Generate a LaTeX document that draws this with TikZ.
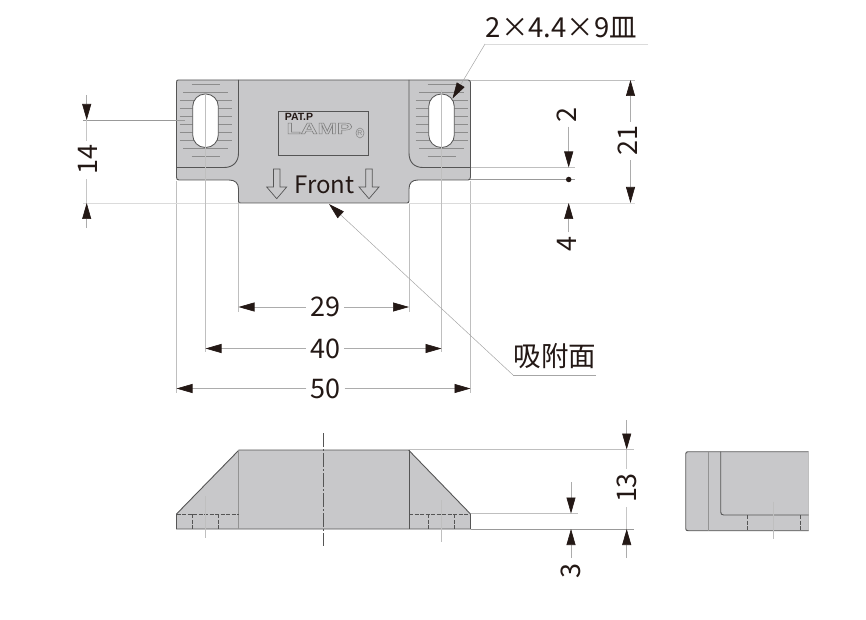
\documentclass[tikz,border=0pt]{standalone}
\usepackage{fontspec}
\setmainfont{Noto Sans CJK JP}
\newfontfamily\logofont{Liberation Sans}
\usetikzlibrary{arrows.meta,shapes.geometric}
\definecolor{partfill}{HTML}{C8C8CA}
\definecolor{ink}{HTML}{231815}
\definecolor{edge}{HTML}{555555}
\tikzset{
  x=1pt,y=-1pt,
  part/.style={fill=partfill,draw=edge,line width=0.9pt},
  edgeline/.style={draw=edge,line width=0.9pt},
  softedge/.style={draw=gray!85,line width=0.9pt},
  hidden/.style={draw=edge,line width=0.6pt,dash pattern=on 4pt off 1.5pt},
  hatchline/.style={draw=gray!90,line width=0.5pt},
  ext/.style={draw=gray!50,line width=0.6pt},
  extfaint/.style={draw=gray!28,line width=0.6pt},
  extdark/.style={draw=gray!80,line width=0.6pt},
  dimline/.style={draw=gray!65,line width=0.6pt,-{Triangle[length=16pt,width=9pt,color=ink]}},
  dimtail/.style={draw=gray!45,line width=0.6pt},
  leader/.style={draw=gray!70,line width=0.5pt},
  dimtext/.style={inner sep=0pt,inner xsep=4pt,text=ink,font=\fontsize{27}{27}\selectfont},
  labeltext/.style={inner sep=0pt,text=ink,font=\fontsize{27.5}{27.5}\selectfont},
  vtext/.style={dimtext,rotate=90},
  center line/.style={draw=edge,line width=0.7pt,dash pattern=on 14pt off 2pt on 2pt off 2pt},
  slot/.style={fill=white,draw=edge,line width=0.8pt,rounded corners=12.5pt},
  hollow/.style={fill=partfill,draw=edge,line width=0.7pt}
}
\newcommand{\hatchrows}[1]{%
  \foreach \yy/\hw in {84.3/14,92.3/22.5,100.3/26,108.3/26,116.3/26,124.3/26,132.3/26,140.3/26,148.3/22.5,156.3/14}
    {\draw[hatchline] (#1-\hw,\yy) -- (#1+\hw,\yy);}%
}
\newcommand{\downarrowshape}[1]{%
  \draw[hollow] (#1-3.3,169) -- (#1+3.3,169) -- (#1+3.3,187) -- (#1+10,187) -- (#1,198.7) -- (#1-10,187) -- (#1-3.3,187) -- cycle;%
}
\newcommand{\outlined}[1]{\special{pdf:code q 1 Tr 0.45 w 0.5 G}#1\special{pdf:code Q}}
\begin{document}
\begin{tikzpicture}
\useasboundingbox (0,0) rectangle (866,620);

% ---- extension lines (behind the parts)
\draw[ext] (176.5,181) -- (176.5,393);
\draw[ext] (470.5,181) -- (470.5,393);
\draw[ext] (238.5,203) -- (238.5,312);
\draw[ext] (409,203) -- (409,312);
\draw[ext] (470,80) -- (635,80);
\draw[extfaint] (409,203) -- (635,203);
\draw[extfaint] (83,203) -- (238,203);
\draw[ext] (470,167.5) -- (575,167.5);
\draw[extdark] (470,179.5) -- (575,179.5);

% ---- front view
\draw[part] (178,80) -- (468,80) .. controls (469.5,80) and (470.5,81) .. (470.5,82.5)
  -- (470.5,177) .. controls (470.5,179) and (469.5,180) .. (468,180)
  -- (418,180) .. controls (412,180) and (409,183) .. (409,189)
  -- (409,201) .. controls (409,202.5) and (408,203) .. (407,203)
  -- (240.5,203) .. controls (239,203) and (238.5,202.5) .. (238.5,201)
  -- (238.5,189) .. controls (238.5,183) and (235,180) .. (229,180)
  -- (179,180) .. controls (177,180) and (176.5,179) .. (176.5,177)
  -- (176.5,82.5) .. controls (176.5,81) and (177,80) .. (178,80) -- cycle;
\draw[edgeline] (238.5,80) -- (238.5,153) .. controls (238.5,162) and (233,167.5) .. (224,167.5) -- (176.5,167.5);
\draw[edgeline] (409,80) -- (409,153) .. controls (409,162) and (414,167.5) .. (423,167.5) -- (470.5,167.5);
\hatchrows{205.5}
\hatchrows{441.5}
\draw[slot] (192.7,94) rectangle (218.3,147.5);
\draw[slot] (428.7,94) rectangle (454.3,147.5);
\draw[ext] (205.5,94) -- (205.5,352);
\draw[ext] (441.5,90) -- (441.5,352);
\draw[extdark] (83,120) -- (185,120);

% logo and marking
\node[draw=edge,line width=0.7pt,minimum width=90pt,minimum height=44pt,inner sep=0pt] (logobox) at (323.5,133) {};
\node[inner sep=0pt,text=ink,font=\logofont\bfseries\fontsize{10.5}{10.5}\selectfont] (patp) at (299,116.5) {PAT.P};
\node[inner sep=0pt,font=\logofont\bfseries\fontsize{15.5}{15.5}\selectfont] (lamp) at (319.5,128.5) {\outlined{\scalebox{1.5}[1]{LAMP}}};
\node[draw=gray!95,line width=0.5pt,ellipse,inner sep=0pt,minimum width=8pt,minimum height=10pt,text=gray!95,font=\logofont\fontsize{7}{7}\selectfont] (regmark) at (360,133) {R};
\node[inner sep=0pt,text=ink,font=\fontsize{24}{24}\selectfont] (front) at (324.5,185) {Front};
\downarrowshape{276.7}
\downarrowshape{369}

% ---- side view
\draw[part] (176.5,514) -- (239,450) -- (408.5,450) -- (470.5,514) -- (470.5,529) -- (176.5,529) -- cycle;
\draw[softedge] (238.5,450) -- (238.5,529);
\draw[edgeline] (409,450) -- (409,529);
\draw[hidden] (176.5,514) -- (238.5,514);
\draw[hidden] (409,514) -- (470.5,514);
\foreach \xx in {192.5,218,428.5,454.5}
  \draw[hidden] (\xx,514) -- (\xx,529);
\draw[ext] (205.5,496) -- (205.5,538);
\draw[ext] (441.5,500) -- (441.5,542);
\draw[center line] (323.5,433) -- (323.5,546);
\draw[ext] (409,449.5) -- (634,449.5);
\draw[ext] (470.5,513.5) -- (578,513.5);
\draw[extdark] (470.5,529) -- (634,529);

% ---- end view
\fill[partfill] (685.7,451.7) rectangle (808.7,530.7);
\draw[ext] (808.7,453) -- (808.7,530);
\draw[edgeline] (808.7,451.7) -- (688,451.7) .. controls (686.5,451.7) and (685.7,452.5) .. (685.7,454)
  -- (685.7,528.5) .. controls (685.7,530) and (686.5,530.7) .. (688,530.7) -- (808.7,530.7);
\draw[softedge] (708.3,451.7) -- (708.3,530.7);
\draw[edgeline] (720.7,451.7) -- (720.7,512) .. controls (720.7,514) and (721.7,515) .. (723.7,515) -- (808.7,515);
\draw[hidden] (747.3,515) -- (747.3,530.7);
\draw[hidden] (800,515) -- (800,530.7);
\draw[ext] (773.7,501.7) -- (773.7,539);

% ---- horizontal dimensions
\coordinate (l29) at (238.5,307); \coordinate (r29) at (409,307);
\node[dimtext] (n29) at (325,307) {29};
\draw[dimline] (n29.west) -- (l29);
\draw[dimline] (n29.east) -- (r29);
\coordinate (l40) at (205.5,348.5); \coordinate (r40) at (441.5,348.5);
\node[dimtext] (n40) at (325,348.5) {40};
\draw[dimline] (n40.west) -- (l40);
\draw[dimline] (n40.east) -- (r40);
\coordinate (l50) at (176.5,388.5); \coordinate (r50) at (470.5,388.5);
\node[dimtext] (n50) at (325.5,388.5) {50};
\draw[dimline] (n50.west) -- (l50);
\draw[dimline] (n50.east) -- (r50);

% ---- vertical dimensions
\coordinate (t14) at (86.7,120); \coordinate (b14) at (86.7,203);
\coordinate (s14) at (86.7,95); \coordinate (e14) at (86.7,228);
\node[vtext] (n14) at (87.5,160) {14};
\draw[dimline] (s14) -- (t14);
\draw[dimline] (e14) -- (b14);
\draw[dimtail] (t14) -- (n14.east -| t14);
\draw[dimtail] (b14) -- (n14.west -| b14);

\coordinate (t21) at (630.5,80); \coordinate (b21) at (630.5,203);
\node[vtext] (n21) at (628,141) {21};
\draw[dimline] (n21.east -| t21) -- (t21);
\draw[dimline] (n21.west -| b21) -- (b21);

\coordinate (t2) at (568.7,167.5);
\node[vtext] (n2) at (566.5,115) {2};
\draw[dimline] (n2.west -| t2) -- (t2);
\node[circle,fill=ink,minimum size=5.5pt,inner sep=0pt] (dot) at (568.7,179.5) {};
\coordinate (b4) at (568.7,203);
\node[vtext] (n4) at (567,244) {4};
\draw[dimline] (n4.east -| b4) -- (b4);

\coordinate (t13) at (626.7,449.5); \coordinate (b13) at (626.7,529);
\coordinate (s13) at (626.7,420); \coordinate (e13) at (626.7,558);
\node[vtext] (n13) at (627,488) {13};
\draw[dimline] (s13) -- (t13);
\draw[dimline] (e13) -- (b13);
\draw[dimtail] (t13) -- (n13.east -| t13);
\draw[dimtail] (b13) -- (n13.west -| b13);

\coordinate (t3) at (571,513.5); \coordinate (b3) at (571,529);
\coordinate (s3) at (571,482); \coordinate (e3) at (571,558);
\node[vtext] (n3) at (570.5,571) {3};
\draw[dimline] (s3) -- (t3);
\draw[dimline] (e3) -- (b3);

% ---- leaders
\coordinate (tipA) at (329,204);
\coordinate (kneeA) at (513,375);
\coordinate (endA) at (596,375);
\node[labeltext] (lbA) at (555,356) {吸附面};
\draw[leader] (endA) -- (kneeA);
\draw[leader,-{Triangle[length=16pt,width=9pt,color=ink]}] (kneeA) -- (tipA);
\coordinate (tipB) at (452.5,98.5);
\coordinate (kneeB) at (485,44);
\coordinate (endB) at (648,44);
\node[labeltext] (lbB) at (561.5,28) {2×4.4×9皿};
\draw[extfaint] (endB) -- (kneeB);
\draw[leader,-{Triangle[length=16pt,width=9pt,color=ink]}] (kneeB) -- (tipB);
\end{tikzpicture}
\end{document}
